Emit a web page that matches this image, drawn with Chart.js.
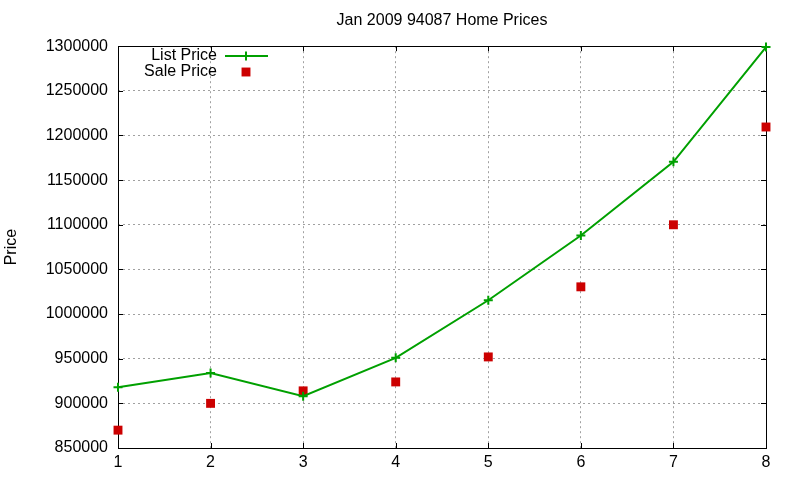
<!DOCTYPE html>
<html>
<head>
<meta charset="utf-8">
<title>Jan 2009 94087 Home Prices</title>
<script src="https://cdn.jsdelivr.net/npm/chart.js@4.4.1/dist/chart.umd.min.js"></script>
<style>
  html, body { margin: 0; padding: 0; background: #fff; }
  #myChart { display: block; }
</style>
</head>
<body>
<canvas id="myChart" width="800" height="480"></canvas>
<script>
// data
const months = [1, 2, 3, 4, 5, 6, 7, 8];
const listPrice = [918000, 934000, 908000, 951000, 1015500, 1088000, 1170500, 1299000];
const salePrice = [870000, 900000, 914000, 924000, 952000, 1030500, 1100000, 1209500];
const yMin = 850000;
const yMax = 1300000;
const yStep = 50000;

const FONT = "'Liberation Sans', Arial, sans-serif";
const canvas = document.getElementById("myChart");
const ctx = canvas.getContext("2d");

// gnuplot-ish frame: solid box, small inward ticks on all four sides
const framePlugin = {
  id: "frame",
  beforeDatasetsDraw(chart) {
    const a = chart.chartArea;
    const c = chart.ctx;
    const xs = chart.scales.x, ys = chart.scales.y;
    c.save();
    c.strokeStyle = "#000";
    c.lineWidth = 1;
    c.beginPath();
    xs.ticks.forEach((t) => {
      const px = Math.round(xs.getPixelForValue(t.value)) + 0.5;
      c.moveTo(px, a.bottom); c.lineTo(px, a.bottom - 5);
      c.moveTo(px, a.top); c.lineTo(px, a.top + 5);
    });
    ys.ticks.forEach((t) => {
      const py = Math.round(ys.getPixelForValue(t.value)) + 0.5;
      c.moveTo(a.left, py); c.lineTo(a.left + 5, py);
      c.moveTo(a.right, py); c.lineTo(a.right - 5, py);
    });
    c.stroke();
    c.strokeRect(Math.round(a.left) + 0.5, Math.round(a.top) + 0.5,
      Math.round(a.right - a.left), Math.round(a.bottom - a.top));
    c.restore();
  },
  afterDraw(chart) {
    // key, top-left inside the plot
    const c = chart.ctx;
    c.save();
    c.font = "16px " + FONT;
    c.textAlign = "right";
    c.textBaseline = "middle";
    chart.data.datasets.forEach((ds, i) => {
      const y = 56 + i * 16;
      c.fillStyle = "#000";
      c.fillText(ds.label, 217, y);
      const cx = 246;
      if (ds.showLine !== false) {
        c.strokeStyle = ds.borderColor;
        c.lineWidth = ds.borderWidth;
        c.beginPath();
        c.moveTo(225, y); c.lineTo(268, y);
        c.stroke();
      }
      if (ds.pointStyle === "cross") {
        const r = ds.pointRadius;
        c.strokeStyle = ds.pointBorderColor;
        c.lineWidth = ds.pointBorderWidth;
        c.beginPath();
        c.moveTo(cx - r, y); c.lineTo(cx + r, y);
        c.moveTo(cx, y - r); c.lineTo(cx, y + r);
        c.stroke();
      } else {
        const s = ds.pointRadius * Math.SQRT1_2;
        c.fillStyle = ds.pointBackgroundColor;
        c.fillRect(cx - s, y - s, 2 * s, 2 * s);
      }
    });
    c.restore();
  }
};

const data = {
  datasets: [
    {
      label: "List Price",
      data: months.map((m, i) => ({ x: m, y: listPrice[i] })),
      borderColor: "#00a000",
      borderWidth: 2,
      tension: 0,
      pointStyle: "cross",
      pointRadius: 4.5,
      pointBorderWidth: 2,
      pointBorderColor: "#00a000",
      pointBackgroundColor: "#00a000",
      clip: false
    },
    {
      label: "Sale Price",
      data: months.map((m, i) => ({ x: m, y: salePrice[i] })),
      showLine: false,
      pointStyle: "rect",
      pointRadius: 6.3,
      pointBorderWidth: 0,
      pointBorderColor: "#cc0000",
      pointBackgroundColor: "#cc0000",
      backgroundColor: "#cc0000",
      borderColor: "#cc0000",
      clip: false
    }
  ]
};

new Chart(ctx, {
  type: "line",
  data,
  options: {
    responsive: false,
    animation: false,
    devicePixelRatio: 1,
    layout: { padding: { left: 0, right: 34, top: 0, bottom: 0 } },
    scales: {
      x: {
        type: "linear",
        min: 1,
        max: 8,
        afterFit: (s) => { s.height = 32; },
        ticks: { stepSize: 1, color: "#000", font: { family: FONT, size: 16 }, padding: 5 },
        grid: { color: "#a0a0a0", drawTicks: false, lineWidth: 1 },
        border: { display: false, dash: [2, 3] }
      },
      y: {
        min: yMin,
        max: yMax,
        afterFit: (s) => { s.width = 118; },
        ticks: {
          stepSize: yStep,
          color: "#000",
          font: { family: FONT, size: 16 },
          padding: 10,
          callback: (v) => String(v)
        },
        grid: { color: "#a0a0a0", drawTicks: false, lineWidth: 1 },
        border: { display: false, dash: [2, 3] },
        title: {
          display: true,
          text: "Price",
          color: "#000",
          font: { family: FONT, size: 16 },
          padding: { top: 2, bottom: 2 }
        }
      }
    },
    plugins: {
      legend: { display: false },
      tooltip: { enabled: false },
      title: {
        display: true,
        fullSize: false,
        text: "Jan 2009 94087 Home Prices",
        color: "#000",
        font: { family: FONT, size: 16, weight: "normal" },
        padding: { top: 11, bottom: 16 }
      }
    }
  },
  plugins: [framePlugin]
});
</script>
</body>
</html>
